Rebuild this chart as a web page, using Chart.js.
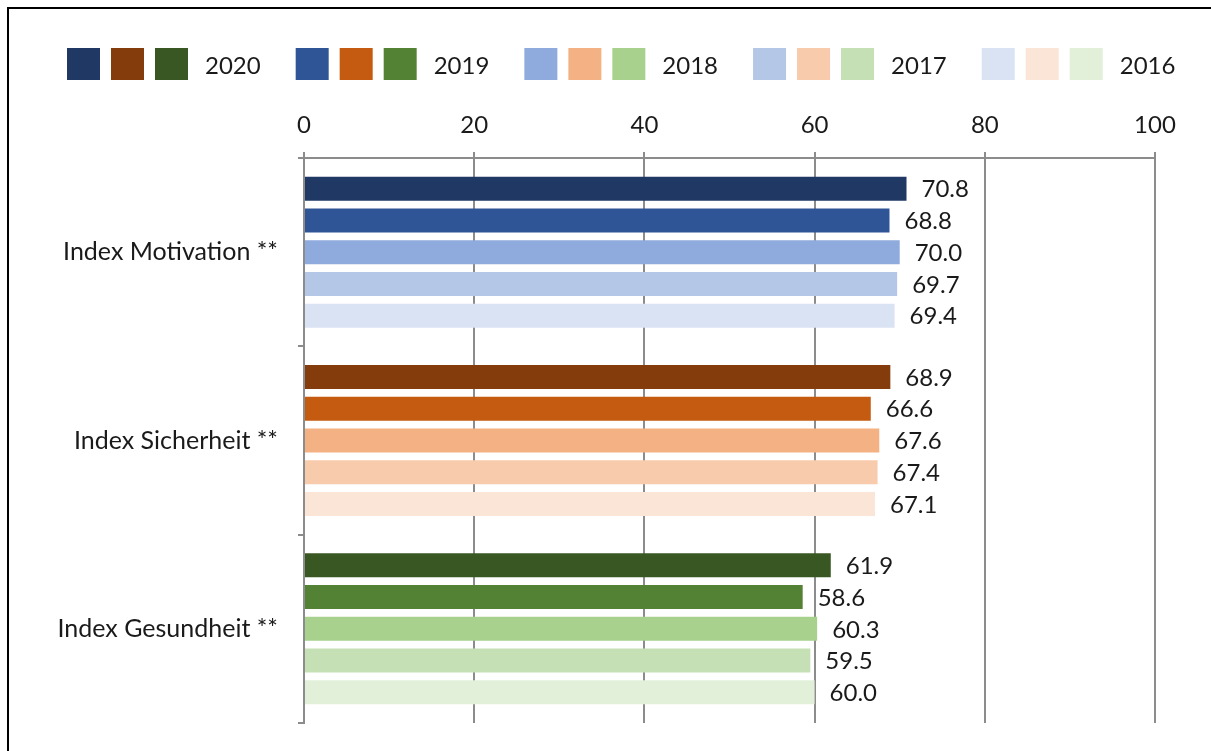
<!DOCTYPE html>
<html>
<head>
<meta charset="utf-8">
<script src="https://cdn.jsdelivr.net/npm/chart.js@4"></script>
<style>
  body { margin: 0; background: #fff; }
  #wrap { width: 1211px; height: 751px; }
</style>
</head>
<body>
<div id="wrap"><canvas id="my-chart" width="1211" height="751"></canvas></div>
<script>
'use strict';

// ******** DATA *******
let categories = ['Index Motivation **', 'Index Sicherheit **', 'Index Gesundheit **'];
let years = ['2020', '2019', '2018', '2017', '2016'];

let values2020 = [70.8, 68.9, 61.9];
let values2019 = [68.8, 66.6, 58.6];
let values2018 = [70.0, 67.6, 60.3];
let values2017 = [69.7, 67.4, 59.5];
let values2016 = [69.4, 67.1, 60.0];

let xTicks = [0, 20, 40, 60, 80, 100];

// colours per year, one for each category (blue, orange, green)
let colors2020 = ['#203864', '#843C0C', '#385723'];
let colors2019 = ['#2F5597', '#C55A11', '#548235'];
let colors2018 = ['#8FAADC', '#F4B183', '#A9D18E'];
let colors2017 = ['#B4C7E7', '#F8CBAD', '#C5E0B4'];
let colors2016 = ['#DAE3F3', '#FBE5D6', '#E2F0D9'];

let allValues = [values2020, values2019, values2018, values2017, values2016];
let allColors = [colors2020, colors2019, colors2018, colors2017, colors2016];

let fontFamily = 'Lato, "Open Sans", sans-serif';
let textColor = '#1a1a1a';
let gridColor = '#8c8c8c';

// ******** PLUGINS *******

// black frame round the figure
let framePlugin = {
  id: 'frame',
  beforeDraw(chart) {
    let c = chart.ctx;
    c.save();
    c.strokeStyle = '#000';
    c.lineWidth = 2;
    c.beginPath();
    c.moveTo(8, 760);
    c.lineTo(8, 8);
    c.lineTo(1220, 8);
    c.stroke();
    c.restore();
  }
};

// legend: three colour boxes then the year
let groupLegend = {
  id: 'groupLegend',
  afterDraw(chart) {
    let c = chart.ctx;
    c.save();
    c.font = '24px ' + fontFamily;
    c.textBaseline = 'middle';
    let x = 67;
    let y = 48;
    for (let i = 0; i < years.length; i++) {
      let cols = chart.data.datasets[i].backgroundColor;
      for (let k = 0; k < cols.length; k++) {
        c.fillStyle = cols[k];
        c.fillRect(x + k * 44, y, 33, 32);
      }
      c.fillStyle = textColor;
      c.fillText(years[i], x + 138, y + 18);
      x += 138 + c.measureText(years[i]).width + 35;
    }
    c.restore();
  }
};

// value labels right of each bar
let valueLabels = {
  id: 'valueLabels',
  afterDatasetsDraw(chart) {
    let c = chart.ctx;
    c.save();
    c.font = '24px ' + fontFamily;
    c.fillStyle = textColor;
    c.textAlign = 'left';
    c.textBaseline = 'middle';
    chart.data.datasets.forEach((ds, i) => {
      let meta = chart.getDatasetMeta(i);
      meta.data.forEach((bar, j) => {
        c.fillText(ds.data[j].toFixed(1), bar.x + 15, bar.y + 1);
      });
    });
    c.restore();
  }
};

// ******** CHART *******
let ctx = document.getElementById('my-chart');

let datasets = [];
for (let i = 0; i < years.length; i++) {
  datasets.push({
    label: years[i],
    data: allValues[i],
    backgroundColor: allColors[i],
    borderWidth: 0,
    categoryPercentage: 0.843,
    barPercentage: 0.757
  });
}

let chartObject = {
  type: 'bar',
  data: {
    labels: categories,
    datasets: datasets
  },
  options: {
    indexAxis: 'y',
    responsive: false,
    animation: false,
    layout: { padding: { left: 8, top: 100, right: 56, bottom: 28 } },
    plugins: {
      legend: { display: false },
      tooltip: { enabled: false }
    },
    scales: {
      x: {
        position: 'top',
        min: 0,
        max: 100,
        afterBuildTicks: (scale) => { scale.ticks = xTicks.map(v => ({ value: v })); },
        afterFit: (scale) => { scale.height = 58; },
        ticks: {
          padding: 12,
          color: textColor,
          font: { family: fontFamily, size: 24 }
        },
        grid: {
          color: gridColor,
          lineWidth: 2,
          tickLength: 6
        },
        border: { display: true, color: gridColor, width: 2 }
      },
      y: {
        afterFit: (scale) => {
          scale.width = 296;
          scale.paddingTop = 0;
          scale.paddingBottom = 0;
        },
        ticks: {
          padding: 20,
          color: textColor,
          font: { family: fontFamily, size: 25 }
        },
        grid: {
          offset: true,
          drawOnChartArea: false,
          color: gridColor,
          lineWidth: 2,
          tickLength: 6
        },
        border: { display: true, color: gridColor, width: 2 }
      }
    }
  },
  plugins: [framePlugin, groupLegend, valueLabels]
};

const myChart = new Chart(ctx, chartObject);
</script>
</body>
</html>
